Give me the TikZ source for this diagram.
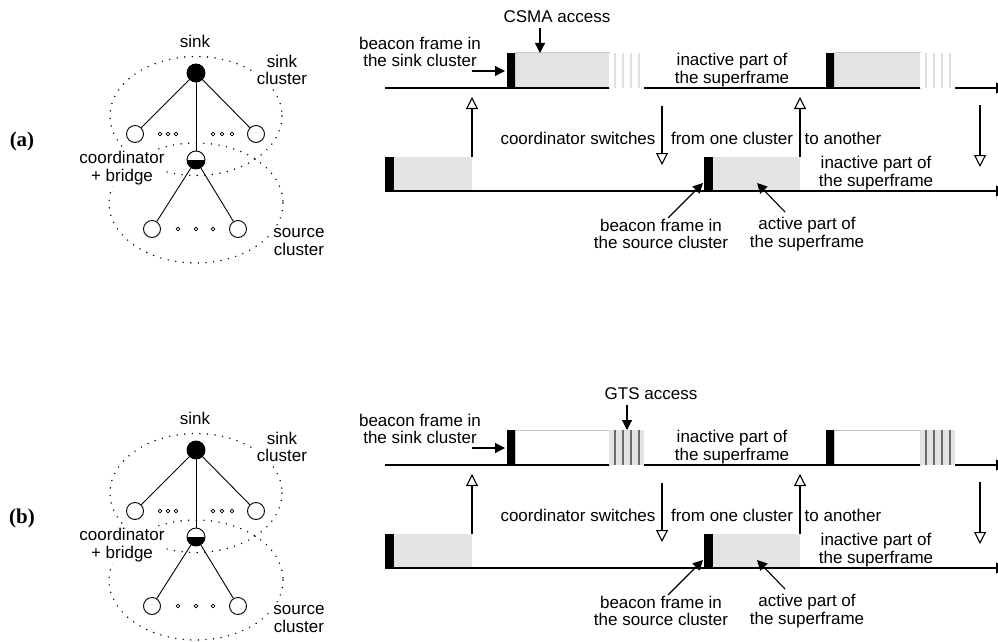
\documentclass[tikz,border=0pt]{standalone}
\usepackage{fontspec}
\setmainfont{Liberation Sans}
\newfontfamily\panelfont{Liberation Serif}
\usepackage{tikz}
\usetikzlibrary{arrows.meta}
\definecolor{boxgray}{gray}{0.89}
\definecolor{edgegray}{gray}{0.78}
\definecolor{stripelight}{gray}{0.88}
\definecolor{stripedark}{gray}{0.42}
\tikzset{
station/.style={shape=circle, draw=black, fill=white, line width=0.9pt, minimum size=17pt, inner sep=0pt},
sinknode/.style={station, fill=black, minimum size=18pt},
bridgenode/.style={station, minimum size=18pt, path picture={\fill[black] (path picture bounding box.west) rectangle (path picture bounding box.south east);}},
tinydot/.style={shape=circle, draw=black, fill=white, line width=0.8pt, minimum size=3.8pt, inner sep=0pt},
cluster/.style={line width=1.6pt, line cap=round, dash pattern=on 0pt off 7.6pt},
caption/.style={align=center, inner sep=1pt, font=\fontsize{17}{17.5}\selectfont},
mask/.style={caption, fill=white},
tag/.style={font=\panelfont\bfseries\fontsize{21}{21}\selectfont},
link/.style={line width=0.9pt},
timeline/.style={line width=1.2pt},
border/.style={timeline, -{Triangle[length=10pt, width=11pt]}},
switch/.style={line width=1.1pt, -{Triangle[open, length=12pt, width=12pt]}},
pointer/.style={line width=1.1pt, -{Triangle[length=10pt, width=10pt]}}
}

\begin{document}
\begin{tikzpicture}[x=1pt, y=-1pt]
\useasboundingbox (0,0) rectangle (998,642);
\foreach \p/\sh/\actfill/\gapfill/\stripe/\accx/\arrx/\acc in {a/0/boxgray/white/stripelight/557/540/CSMA access, b/377/white/boxgray/stripedark/651/627/GTS access}{
\begin{scope}[shift={(0,\sh)}]
    % network of the two clusters
    \node[tag] (tag\p) at (22,141) {(\p)};
    \draw[cluster] (196,116) ellipse [x radius=86, y radius=59.5];
    \draw[cluster] (196,203) ellipse [x radius=87, y radius=60];
    \node[caption] (sinklab\p) at (195,41) {sink};
    \node[mask] (sinkcl\p) at (282,70) {sink\\cluster};
    \node[mask] (bridgelab\p) at (122,168) {coordinator\\+ bridge};
    \node[mask] (srccl\p) at (299,242) {source\\cluster};
    \node[sinknode] (sink\p) at (196,73) {};
    \node[station] (left\p) at (135,134) {};
    \node[station] (right\p) at (256,134) {};
    \node[bridgenode] (coord\p) at (196,160) {};
    \node[station] (srcleft\p) at (152,229) {};
    \node[station] (srcright\p) at (238,229) {};
    \draw[link] (sink\p) -- (left\p);
    \draw[link] (sink\p) -- (right\p);
    \draw[link] (sink\p) -- (coord\p);
    \draw[link] (coord\p) -- (srcleft\p);
    \draw[link] (coord\p) -- (srcright\p);
    \foreach \x in {160,168,176,213,222,232}
        \node[tinydot] (dot\p\x) at (\x,134) {};
    \foreach \x in {178,196,213}
        \node[tinydot] (sdot\p\x) at (\x,229) {};

    % superframes of the sink cluster
    \foreach \s/\e in {507/609, 826/920}{
        \filldraw[fill=\actfill, draw=edgegray, line width=1pt] (\s+8,53) rectangle (\e,88);
        \fill[\gapfill] (\e,53) rectangle (\e+35,88);
        \foreach \d in {5.5,13.5,21.5,29.5}
            \draw[\stripe, line width=2pt] (\e+\d,53) -- (\e+\d,88);
        \fill[black] (\s,53) rectangle (\s+8,88);
    }
    \draw[timeline] (385,88) -- (609,88);
    \draw[timeline] (644,88) -- (920,88);
    \draw[border] (955,88) -- (1006,88);

    % superframes of the source cluster
    \fill[boxgray] (394,157) rectangle (472,191);
    \fill[boxgray] (713,157) rectangle (800,191);
    \fill[black] (385,157) rectangle (394,191);
    \fill[black] (704,157) rectangle (713,191);
    \draw[border] (385,191) -- (1006,191);

    % texts
    \node[caption] (acc\p) at (\accx,17) {\acc};
    \node[caption] (bsink\p) at (420,52) {beacon frame in\\the sink cluster};
    \node[caption] (inact\p) at (732,70) {inactive part of\\the superframe};
    \node[caption] (inactsrc\p) at (876,173) {inactive part of\\the superframe};
    \node[caption] (sw1\p) at (578,138) {coordinator switches};
    \node[caption] (sw2\p) at (732,138) {from one cluster};
    \node[caption] (sw3\p) at (843,138) {to another};
    \node[caption] (bsrc\p) at (661,234) {beacon frame in\\the source cluster};
    \node[caption] (actsrc\p) at (807,234) {active part of\\the superframe};

    % arrows
    \coordinate (accend\p) at (\arrx,53);
    \coordinate (bsinkend\p) at (505,71);
    \coordinate (bsrcend\p) at (703,183);
    \coordinate (actend\p) at (757,183);
    \draw[pointer] (\arrx,28) -- (accend\p);
    \draw[pointer] (472,71) -- (bsinkend\p);
    \draw[pointer] (668,218) -- (bsrcend\p);
    \draw[pointer] (785,212) -- (actend\p);
    \coordinate (upa\p) at (472,97);
    \coordinate (downa\p) at (662,165);
    \coordinate (upb\p) at (800,97);
    \coordinate (downb\p) at (980,167);
    \draw[switch] (472,157) -- (upa\p);
    \draw[switch] (662,106) -- (downa\p);
    \draw[switch] (800,157) -- (upb\p);
    \draw[switch] (980,105) -- (downb\p);
\end{scope}
}
\end{tikzpicture}
\end{document}
